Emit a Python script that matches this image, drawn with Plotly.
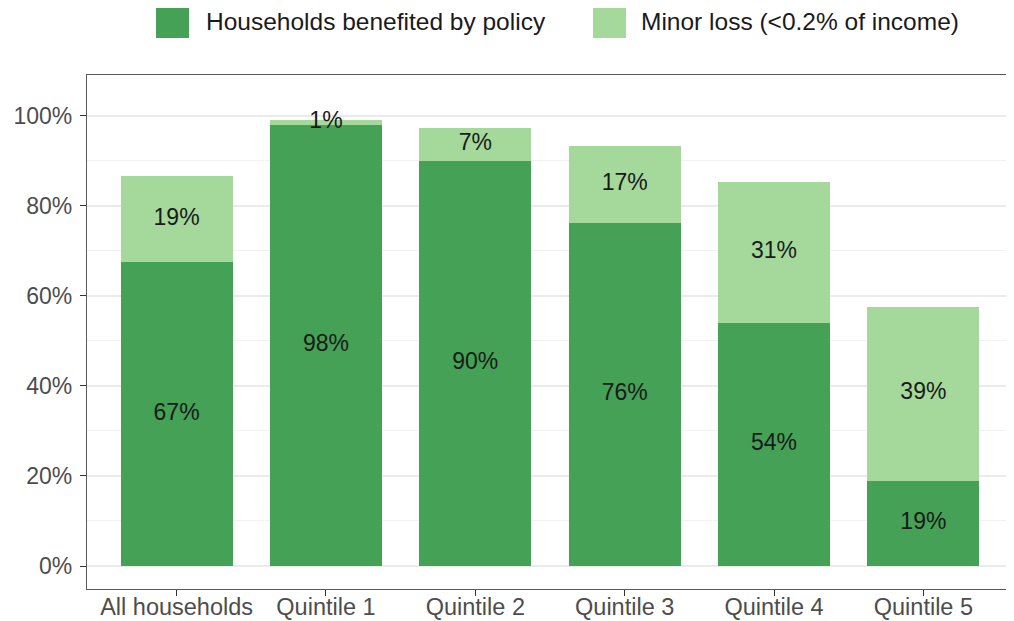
import plotly.graph_objects as go

categories = ["All households", "Quintile 1", "Quintile 2", "Quintile 3", "Quintile 4", "Quintile 5"]
benefited = [67.4, 98.0, 90.0, 76.2, 54.0, 18.9]
minor_loss = [19.1, 1.1, 7.2, 17.1, 31.3, 38.7]
series_names = ["Households benefited by policy", "Minor loss (<0.2% of income)"]
y_ticks = [0, 20, 40, 60, 80, 100]
y_tick_labels = ["0%", "20%", "40%", "60%", "80%", "100%"]

DARK = "#44a156"
LIGHT = "#a5d99b"
FONT = "Liberation Sans, Arial, sans-serif"

# the page body has an 8px margin, so the figure is offset by 8px
OFF = 8
W, H = 1014 - OFF, 621 - OFF
L, R, T, B = 87 - OFF, 1, 75 - OFF, 32
pw, ph = W - L - R, H - T - B


def px_x(p):
    return (p - OFF - L) / pw


def px_y(p):
    return (H - B - (p - OFF)) / ph


fig = go.Figure()
fig.add_bar(x=categories, y=benefited, name=series_names[0], marker=dict(color=DARK, line=dict(width=0)),
            width=0.75, showlegend=False, hoverinfo="y")
fig.add_bar(x=categories, y=minor_loss, name=series_names[1], marker=dict(color=LIGHT, line=dict(width=0)),
            width=0.75, showlegend=False, hoverinfo="y")

# labels at segment centres
lab_x = categories + categories
lab_y = [b / 2 for b in benefited] + [b + m / 2 for b, m in zip(benefited, minor_loss)]
lab_t = [f"{round(v)}%" for v in benefited] + [f"{round(v)}%" for v in minor_loss]
fig.add_scatter(x=lab_x, y=lab_y, text=lab_t, mode="text", showlegend=False,
                textfont=dict(family=FONT, size=23, color="#1a1a1a"), hoverinfo="skip")

# custom legend (reference-pixel positions)
legend_items = [(series_names[0], DARK, 156, 204), (series_names[1], LIGHT, 593, 639)]
for name, col, sx, tx in legend_items:
    fig.add_shape(type="rect", xref="paper", yref="paper",
                  x0=px_x(sx), x1=px_x(sx + 33), y0=px_y(38), y1=px_y(6),
                  fillcolor=col, line=dict(width=0), layer="above")
    fig.add_annotation(xref="paper", yref="paper", x=px_x(tx), y=px_y(22), text=name,
                       showarrow=False, xanchor="left", yanchor="middle",
                       font=dict(family=FONT, size=24.5, color="#1a1a1a"))

fig.update_layout(
    width=W, height=H,
    margin=dict(l=L, r=R, t=T, b=B, autoexpand=False),
    barmode="stack",
    plot_bgcolor="white", paper_bgcolor="white",
    font=dict(family=FONT),
    xaxis=dict(range=[-0.6, 5.6], showgrid=False, zeroline=False, automargin=False,
               showline=True, mirror=True, linecolor="#5a5a5a", linewidth=1.3,
               ticks="outside", ticklen=6, tickcolor="#333333", tickwidth=1.3,
               ticklabelstandoff=-9,
               tickfont=dict(family=FONT, size=23.5, color="#4d4d4d")),
    yaxis=dict(range=[-5.1, 109.0], tickvals=y_ticks, ticktext=y_tick_labels,
               showgrid=True, gridcolor="#ebebeb", gridwidth=1.5, zeroline=False, automargin=False,
               showline=True, mirror=True, linecolor="#5a5a5a", linewidth=1.3,
               ticks="outside", ticklen=6, tickcolor="#333333", tickwidth=1.3,
               ticklabelstandoff=3,
               tickfont=dict(family=FONT, size=23, color="#4d4d4d"),
               minor=dict(tickvals=[10, 30, 50, 70, 90], showgrid=True, gridcolor="#f2f2f2",
                          gridwidth=1, ticks="")),
)

fig.write_html("out.html")
